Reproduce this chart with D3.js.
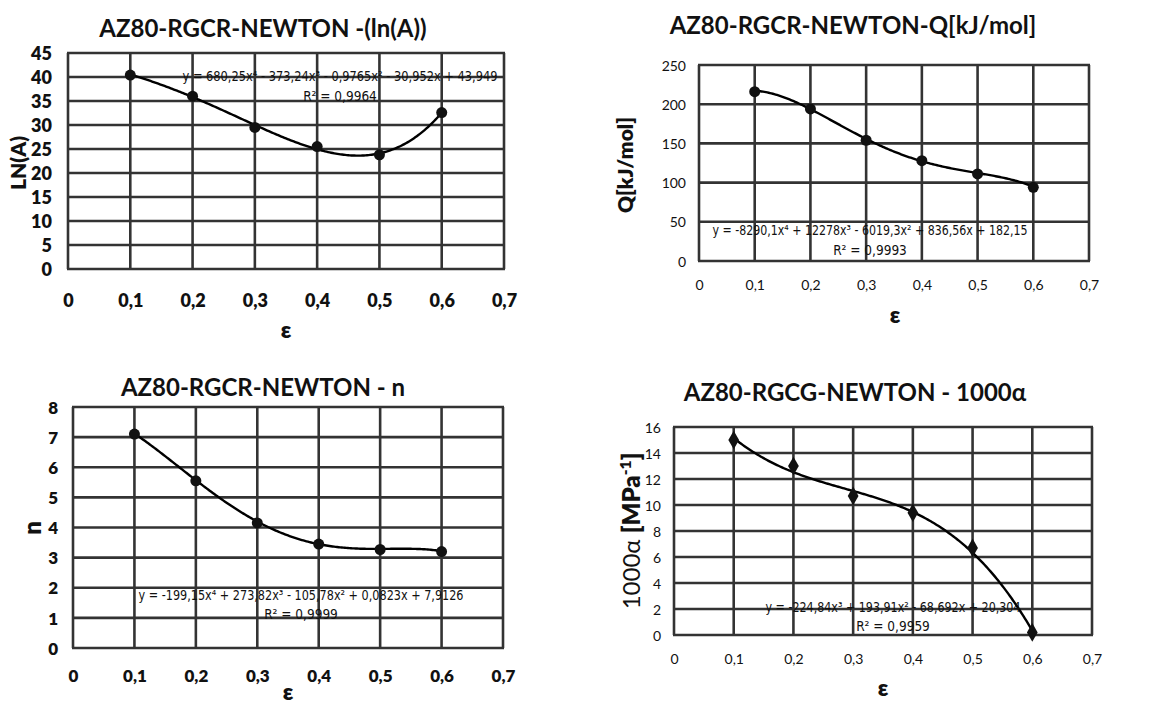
<!DOCTYPE html>
<html><head><meta charset="utf-8">
<script src="https://cdn.jsdelivr.net/npm/d3@7"></script>
<style>
html,body{margin:0;padding:0;background:#fff;}
svg{display:block;}
text{font-family:"Lato","Open Sans",sans-serif;fill:#111;}
</style></head>
<body>
<svg id="c" width="1171" height="709"></svg>
<script>
// ---------- data ----------
const strain = [0.1, 0.2, 0.3, 0.4, 0.5, 0.6];
const xTicks = [0, 0.1, 0.2, 0.3, 0.4, 0.5, 0.6, 0.7];

const lnA = [40.4, 36.0, 29.5, 25.5, 23.8, 32.6];
const lnATicks = [0, 5, 10, 15, 20, 25, 30, 35, 40, 45];
const lnACoef = [680.25, -373.24, -0.9765, -30.952, 43.949]; // x^4..x^0

const Q = [216, 194, 154, 128, 111, 94];
const qTicks = [0, 50, 100, 150, 200, 250];
const qCoef = [-8290.1, 12278, -6019.3, 836.56, 182.15];

const nVals = [7.1, 5.55, 4.15, 3.45, 3.27, 3.2];
const nTicks = [0, 1, 2, 3, 4, 5, 6, 7, 8];
const nCoef = [-199.15, 273.82, -105.78, 0.0823, 7.9126];

const alpha1000 = [15.0, 13.0, 10.7, 9.4, 6.7, 0.2];
const alphaTicks = [0, 2, 4, 6, 8, 10, 12, 14, 16];
const alphaCoef = [-224.84, 193.91, -68.692, 20.304];

const titles = ["AZ80-RGCR-NEWTON -(ln(A))", "AZ80-RGCR-NEWTON-Q[kJ/mol]", "AZ80-RGCR-NEWTON - n", "AZ80-RGCG-NEWTON - 1000α"];
const eqTexts = [
  "y = 680,25x⁴ - 373,24x³ - 0,9765x² - 30,952x + 43,949",
  "y = -8290,1x⁴ + 12278x³ - 6019,3x² + 836,56x + 182,15",
  "y = -199,15x⁴ + 273,82x³ - 105,78x² + 0,0823x + 7,9126",
  "y = -224,84x³ + 193,91x² - 68,692x + 20,304"
];
const r2Texts = ["R² = 0,9964", "R² = 0,9993", "R² = 0,9999", "R² = 0,9959"];

// ---------- layout / style ----------
const panels = [
  {values: lnA, ticks: lnATicks, coef: lnACoef, title: titles[0], eq: eqTexts[0], r2: r2Texts[0],
   x0: 68, x1: 504, y0: 53, y1: 269, titleX: 263, titleY: 37,
   tickFont: 18, tickBold: true, tickY: 307, yTickX: 52,
   yTitle: "LN(A)", yTitleX: 26, yTitleY: 163, yTitleSize: 21,
   xTitleY: 338, xTitleX: 286, eqX: 340, eqY: 81, eqW: 315, r2Y: 101, marker: "circle"},
  {values: Q, ticks: qTicks, coef: qCoef, title: titles[1], eq: eqTexts[1], r2: r2Texts[1],
   x0: 699, x1: 1089, y0: 65, y1: 261, titleX: 853, titleY: 34,
   tickFont: 14, tickBold: false, tickY: 290, yTickX: 686,
   yTitle: "Q[kJ/mol]", yTitleX: 633, yTitleY: 165, yTitleSize: 21,
   xTitleY: 323, xTitleX: 895, eqX: 870, eqY: 235, eqW: 315, r2Y: 255, marker: "circle"},
  {values: nVals, ticks: nTicks, coef: nCoef, title: titles[2], eq: eqTexts[2], r2: r2Texts[2],
   x0: 73, x1: 503, y0: 407, y1: 648, titleX: 263, titleY: 396,
   tickFont: 17, tickBold: true, tickY: 682, yTickX: 58,
   yTitle: "n", yTitleX: 41, yTitleY: 528, yTitleSize: 24,
   xTitleY: 700, xTitleX: 288, eqX: 301, eqY: 600, eqW: 325, r2Y: 619, marker: "circle"},
  {values: alpha1000, ticks: alphaTicks, coef: alphaCoef, title: titles[3], eq: eqTexts[3], r2: r2Texts[3],
   x0: 674, x1: 1092, y0: 427, y1: 635, titleX: 855, titleY: 401,
   tickFont: 14, tickBold: false, tickY: 664, yTickX: 661,
   yTitle: "alpha", yTitleX: 640, yTitleY: 531, yTitleSize: 24,
   xTitleY: 696, xTitleX: 883, eqX: 893, eqY: 612, eqW: 255, r2Y: 631, marker: "diamond"}
];

const gridColor = "#333";
const svg = d3.select("#c");

function fmt(v) { return v === 0 ? "0" : d3.format(".1f")(v).replace(".", ","); }
function poly(coef, x) { return coef.reduce((acc, c) => acc * x + c, 0); }

panels.forEach(p => {
  const g = svg.append("g");
  const x = d3.scaleLinear().domain([0, 0.7]).range([p.x0, p.x1]);
  const y = d3.scaleLinear().domain([0, d3.max(p.ticks)]).range([p.y1, p.y0]);

  // grid
  g.append("g").selectAll("line.h").data(p.ticks).join("line")
    .attr("x1", p.x0 - 1).attr("x2", p.x1 + 1).attr("y1", d => y(d)).attr("y2", d => y(d))
    .attr("stroke", gridColor).attr("stroke-width", 2.6);
  g.append("g").selectAll("line.v").data(xTicks).join("line")
    .attr("x1", d => x(d)).attr("x2", d => x(d)).attr("y1", p.y0).attr("y2", p.y1)
    .attr("stroke", gridColor).attr("stroke-width", 2.6);

  // axes tick labels via d3 axes
  const yAxis = d3.axisLeft(y).tickValues(p.ticks).tickSize(0).tickPadding(0).tickFormat(d => d);
  const ya = g.append("g").attr("transform", `translate(${p.yTickX},0)`).call(yAxis);
  ya.select(".domain").remove();
  ya.selectAll("text").attr("font-size", p.tickFont).attr("font-weight", p.tickBold ? 800 : 400)
    .attr("fill", "#111").style("font-family", "Lato, sans-serif").attr("dy", "0.36em").attr("x", 0);

  const xAxis = d3.axisBottom(x).tickValues(xTicks).tickSize(0).tickPadding(0).tickFormat(fmt);
  const xa = g.append("g").attr("transform", `translate(0,${p.tickY})`).call(xAxis);
  xa.select(".domain").remove();
  xa.selectAll("text").attr("font-size", p.tickFont).attr("font-weight", p.tickBold ? 800 : 400)
    .attr("fill", "#111").style("font-family", "Lato, sans-serif").attr("dy", 0).attr("y", 0);

  // title
  g.append("text").attr("x", p.titleX).attr("y", p.titleY).attr("text-anchor", "middle")
    .attr("font-size", 24).attr("font-weight", 700).text(p.title);

  // x title
  g.append("text").attr("x", p.xTitleX).attr("y", p.xTitleY).attr("text-anchor", "middle")
    .attr("font-size", 23).attr("font-weight", 800).text("ε");

  // y title
  const yt = g.append("text").attr("transform", `translate(${p.yTitleX},${p.yTitleY}) rotate(-90)`)
    .attr("text-anchor", "middle").attr("font-size", p.yTitleSize).attr("font-weight", 800);
  if (p.yTitle === "alpha") {
    yt.append("tspan").attr("font-weight", 400).text("1000α ");
    yt.append("tspan").text("[MPa");
    yt.append("tspan").attr("font-size", p.yTitleSize * 0.65).attr("dy", -9).text("-1");
    yt.append("tspan").attr("dy", 9).text("]");
  } else {
    yt.text(p.yTitle);
  }

  // trendline
  const xs = d3.range(0.1, 0.6001, 0.0025);
  const line = d3.line().x(d => x(d)).y(d => y(poly(p.coef, d))).curve(d3.curveLinear);
  g.append("path").datum(xs).attr("d", line).attr("fill", "none")
    .attr("stroke", "#000").attr("stroke-width", 2.4);

  // markers
  const pts = strain.map((s, i) => [s, p.values[i]]);
  if (p.marker === "circle") {
    g.append("g").selectAll("circle").data(pts).join("circle")
      .attr("cx", d => x(d[0])).attr("cy", d => y(d[1])).attr("r", 5.5).attr("fill", "#111");
  } else {
    const sym = d3.symbol().type(d3.symbolDiamond).size(100);
    g.append("g").selectAll("path").data(pts).join("path")
      .attr("transform", d => `translate(${x(d[0])},${y(d[1])})`).attr("d", sym).attr("fill", "#111");
  }

  // equation and R²
  g.append("text").attr("x", p.eqX).attr("y", p.eqY).attr("text-anchor", "middle")
    .attr("font-size", 13.5).style("font-family", "DejaVu Sans Condensed, Liberation Sans, sans-serif")
    .attr("textLength", p.eqW).attr("lengthAdjust", "spacingAndGlyphs").text(p.eq);
  g.append("text").attr("x", p.eqX).attr("y", p.r2Y).attr("text-anchor", "middle")
    .attr("font-size", 13.5).style("font-family", "DejaVu Sans Condensed, Liberation Sans, sans-serif")
    .text(p.r2);
});
</script>
</body></html>
